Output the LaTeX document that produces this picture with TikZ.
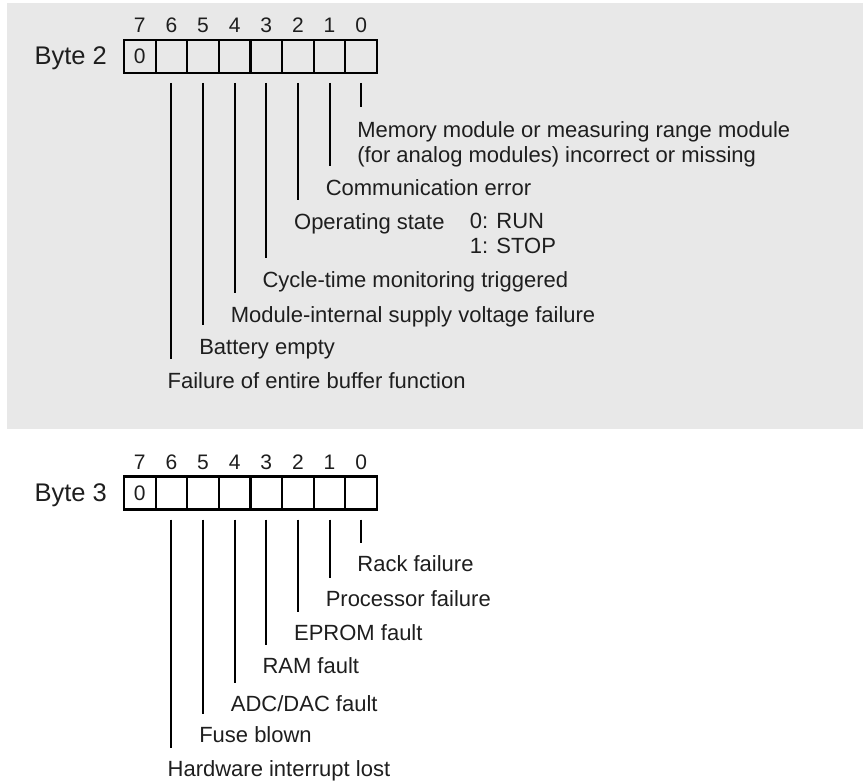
\documentclass[tikz,border=0pt]{standalone}
\usepackage{fontspec}
\setmainfont{Liberation Sans}
\definecolor{panelgray}{HTML}{E8E8E8}
\definecolor{inkgray}{HTML}{1E1E1E}

\begin{document}
\begin{tikzpicture}[x=1pt,y=-1pt,
  font=\fontsize{22}{25}\selectfont,text=inkgray,
  cell/.style={draw,line width=2.2pt,minimum width=31.625pt,minimum height=33pt,inner sep=0pt,outer sep=0pt,
    font=\fontsize{21}{24}\selectfont},
  bitno/.style={anchor=base,inner sep=0pt,font=\fontsize{21}{24}\selectfont},
  bytelbl/.style={anchor=base east,inner sep=0pt,font=\fontsize{25.5}{28}\selectfont},
  tick/.style={line width=2pt},
  lbl/.style={anchor=base west,inner sep=0pt}]
\useasboundingbox (0,0) rectangle (865,784);
\fill[panelgray] (7,3) rectangle (863,429);

% Byte 2
\foreach \b in {0,...,6}{\node[cell] (b2-\b) at ({124+(7.5-\b)*31.625},56.5) {};}
\node[cell] (b2-7) at ({124+0.5*31.625},56.5) {0};
\foreach \b in {0,...,7}{\node[bitno] (n2-\b) at ([yshift=7pt]b2-\b.north) {\b};}
\node[bytelbl] (byte2) at ([xshift=-17pt,yshift=-8.5pt]b2-7.west) {Byte 2};
\foreach \b/\len in {0/24,1/83,2/117,3/175,4/210,5/242,6/276}{
  \draw[tick] ([yshift=-10pt]b2-\b.south) -- ++(0,\len) coordinate (e2-\b);}
\node[lbl,align=left,anchor=north west] (mem) at ([xshift=-4pt,yshift=-14pt]e2-0)
  {Memory module or measuring range module\\(for analog modules) incorrect or missing};
\node[lbl] (comm) at ([xshift=-4pt,yshift=-29pt]e2-1) {Communication error};
\node[lbl] (opst) at ([xshift=-4pt,yshift=-29pt]e2-2) {Operating state};
\node[lbl,align=left,anchor=north west] (opval) at ([xshift=25pt]opst.north east) {0: RUN\\1: STOP};
\node[lbl] (cyc) at ([xshift=-4pt,yshift=-29pt]e2-3) {Cycle-time monitoring triggered};
\node[lbl] (supply) at ([xshift=-4pt,yshift=-29pt]e2-4) {Module-internal supply voltage failure};
\node[lbl] (batt) at ([xshift=-4pt,yshift=-29pt]e2-5) {Battery empty};
\node[lbl] (buffer) at ([xshift=-4pt,yshift=-29pt]e2-6) {Failure of entire buffer function};

% Byte 3
\foreach \b in {0,...,6}{\node[cell] (b3-\b) at ({124+(7.5-\b)*31.625},493) {};}
\node[cell] (b3-7) at ({124+0.5*31.625},493) {0};
\foreach \b in {0,...,7}{\node[bitno] (n3-\b) at ([yshift=7pt]b3-\b.north) {\b};}
\node[bytelbl] (byte3) at ([xshift=-17pt,yshift=-8.5pt]b3-7.west) {Byte 3};
\foreach \b/\len/\txt in {0/23/{Rack failure},1/58/{Processor failure},2/92/{EPROM fault},
    3/125/{RAM fault},4/163/{ADC/DAC fault},5/194/{Fuse blown},6/228/{Hardware interrupt lost}}{
  \draw[tick] ([yshift=-10pt]b3-\b.south) -- ++(0,\len) coordinate (e3-\b);
  \node[lbl] (t3-\b) at ([xshift=-4pt,yshift=-29pt]e3-\b) {\txt};}
\end{tikzpicture}
\end{document}
